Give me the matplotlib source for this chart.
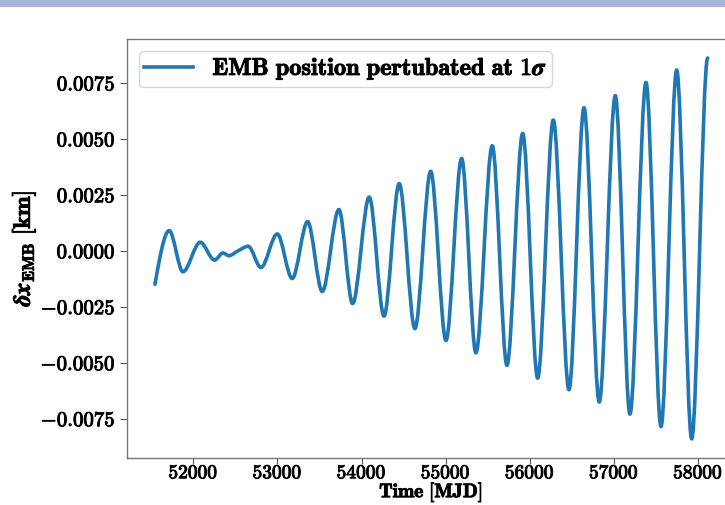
import numpy as np
import matplotlib
matplotlib.use('Agg')
import matplotlib.pyplot as plt
import matplotlib.patheffects as pe
from matplotlib.path import Path
from matplotlib.patches import PathPatch, Rectangle
from matplotlib.lines import Line2D
from matplotlib.ticker import FixedLocator, FuncFormatter

plt.rcParams['mathtext.fontset'] = 'cm'
plt.rcParams['font.family'] = ['DejaVu Serif']

# --- data (extrema of the curve, plus start/end) ---
time_mjd = [51544, 51714, 51877, 52082, 52253, 52352, 52424, 52534, 52653,
            52804, 52998, 53176, 53359, 53533, 53731, 53894, 54092, 54267,
            54448, 54635, 54822, 55004, 55190, 55360, 55554, 55729, 55916,
            56094, 56280, 56466, 56645, 56826, 57017, 57191, 57382, 57560,
            57747, 57925, 58115]
dx_km = [-0.00150, 0.00090, -0.00094, 0.00038, -0.00042, -0.00010, -0.00022,
         0.00000, 0.00020, -0.00075, 0.00075, -0.00124, 0.00130, -0.00182,
         0.00184, -0.00236, 0.00240, -0.00292, 0.00300, -0.00348, 0.00355,
         -0.00401, 0.00412, -0.00456, 0.00469, -0.00512, 0.00524, -0.00569,
         0.00584, -0.00621, 0.00639, -0.00676, 0.00693, -0.00730, 0.00752,
         -0.00786, 0.00808, -0.00841, 0.00861]

xticks = [52000, 53000, 54000, 55000, 56000, 57000, 58000]
yticks = [-0.0075, -0.0050, -0.0025, 0.0000, 0.0025, 0.0050, 0.0075]
legend_label = r'$\mathbf{EMB\ position\ pertubated\ at\ 1}\boldsymbol{\sigma}$'
xlabel = r'$\mathbf{Time\ [MJD]}$'
ylabel = r'$\boldsymbol{\delta x}_{\mathbf{EMB}}\ \mathbf{[km]}$'

line_color = '#1f77b4'
bold_fx = [pe.withStroke(linewidth=0.7, foreground='black')]

fig = plt.figure(figsize=(7.25, 5.06), dpi=100)
fig.patches.append(Rectangle((0, 1 - 8 / 506), 1, 8 / 506, transform=fig.transFigure,
                             facecolor='#a8b6da', edgecolor='none', zorder=0))
ax = fig.add_axes([127.3 / 725, 47 / 506, 608 / 725, 419 / 506])

# smooth curve through the read points (cubic Bezier segments, monotone tangents)
t = np.asarray(time_mjd, float)
v = np.asarray(dx_km, float)
h = np.diff(t)
d = np.diff(v) / h
m = np.zeros_like(v)
for i in range(1, len(v) - 1):
    if d[i - 1] * d[i] > 0:
        w1 = 2 * h[i] + h[i - 1]
        w2 = h[i] + 2 * h[i - 1]
        m[i] = (w1 + w2) / (w1 / d[i - 1] + w2 / d[i])
m[0] = 1.5 * d[0]
m[-1] = 0.0
verts = [(t[0], v[0])]
codes = [Path.MOVETO]
for i in range(len(t) - 1):
    verts += [(t[i] + h[i] / 3, v[i] + m[i] * h[i] / 3),
              (t[i + 1] - h[i] / 3, v[i + 1] - m[i + 1] * h[i] / 3),
              (t[i + 1], v[i + 1])]
    codes += [Path.CURVE4] * 3
patch = PathPatch(Path(verts, codes), facecolor='none', edgecolor=line_color,
                  lw=2.6, capstyle='round', joinstyle='round')
ax.add_patch(patch)
ax.margins(0.05)
ax.autoscale_view()

ax.xaxis.set_major_locator(FixedLocator(xticks))
ax.yaxis.set_major_locator(FixedLocator(yticks))
ax.xaxis.set_major_formatter(FuncFormatter(lambda x, p: r'$\mathbf{%d}$' % round(x)))
ax.yaxis.set_major_formatter(FuncFormatter(lambda y, p: r'$\mathbf{%.4f}$' % y))
ax.tick_params(labelsize=15.0, length=4.9, width=0.8, color='#555555')
ax.tick_params(axis='x', labelsize=14.0, pad=0.5, length=4.0)
for lbl in ax.get_xticklabels() + ax.get_yticklabels():
    lbl.set_path_effects(bold_fx)
for s in ax.spines.values():
    s.set_color('#777777')
    s.set_linewidth(1.0)

ax.set_xlabel(xlabel, fontsize=14, path_effects=bold_fx, va='bottom')
ax.xaxis.set_label_coords(431 / 725, 1.0 / 506, transform=fig.transFigure)
ax.set_ylabel(ylabel, fontsize=17, labelpad=2, path_effects=bold_fx)

handle = Line2D([], [], color=line_color, lw=2.6)
leg = ax.legend([handle], [legend_label], loc='upper left', fontsize=17.5,
                handlelength=2.0, borderpad=0.2)
for txt in leg.get_texts():
    txt.set_path_effects(bold_fx)

fig.savefig('out.png', dpi=100)
